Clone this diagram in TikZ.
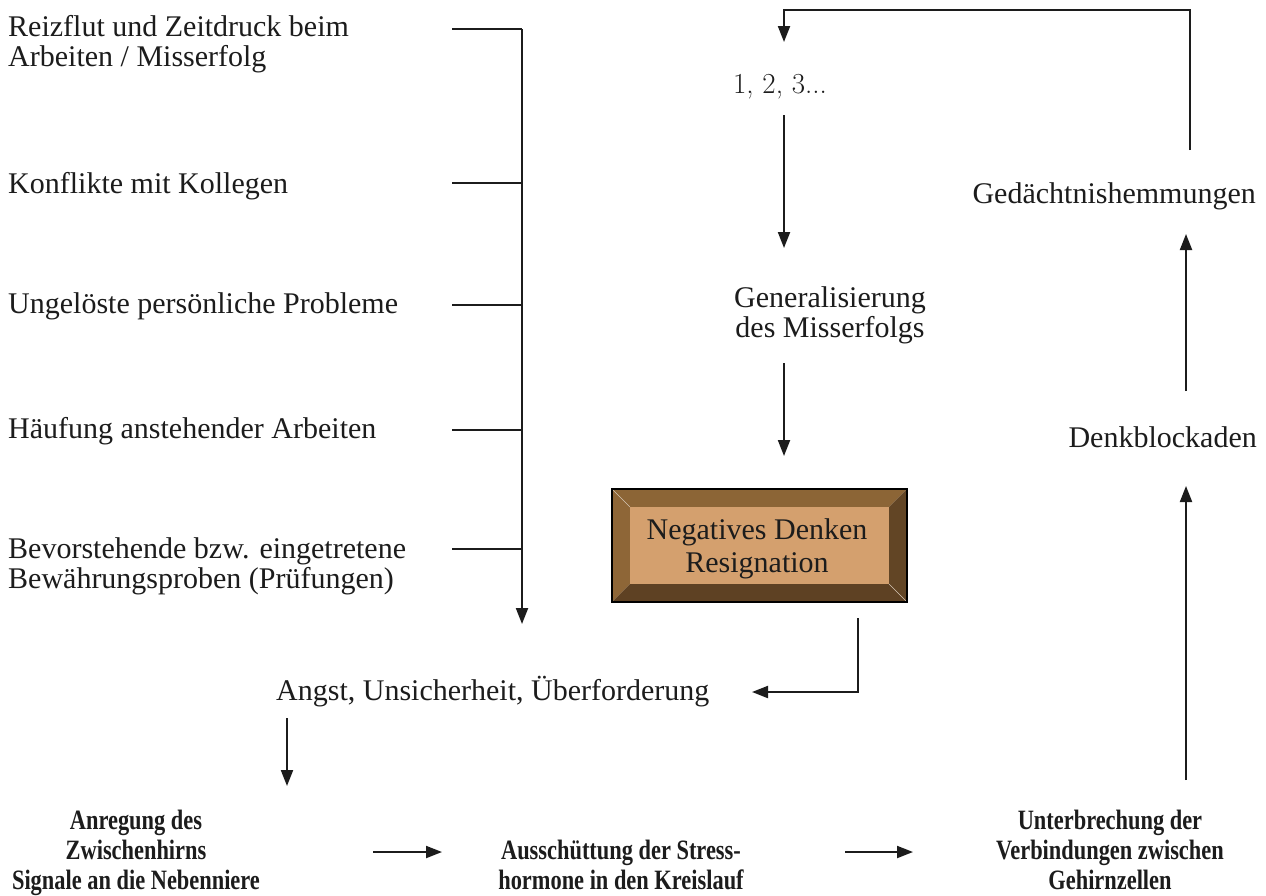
\documentclass[tikz,border=0pt]{standalone}
\usepackage{fontspec}
\setmainfont{Liberation Serif}
\newfontfamily\lmfont{Latin Modern Roman}
\newfontfamily\condfont[FakeStretch=0.8]{Liberation Serif}
\usetikzlibrary{arrows.meta}
\definecolor{ink}{HTML}{1C1C1C}
\definecolor{face}{HTML}{D4A06E}
\definecolor{bevtop}{HTML}{8C6536}
\definecolor{bevleft}{HTML}{8E6637}
\definecolor{bevright}{HTML}{624525}
\definecolor{bevbot}{HTML}{5E4123}
\begin{document}
\begin{tikzpicture}[x=1pt,y=-1pt,
  txt/.style={inner sep=0pt, font=\fontsize{30}{29.5}\selectfont, text=ink},
  bold/.style={inner sep=0pt, align=center, text=ink,
    font=\condfont\bfseries\fontsize{28}{30}\selectfont},
  conn/.style={draw=ink, line width=2pt},
  arr/.style={conn, -{Triangle[length=16pt,width=12pt]}}]
\useasboundingbox (0,0) rectangle (1266,895);
\fill[white] (0,0) rectangle (1266,895);

% causes on the left (base = last line)
\node[txt, anchor=base west, align=left] (c1) at (8,66)
  {Reizflut und Zeitdruck beim\\Arbeiten / Misserfolg};
\node[txt, anchor=base west] (c2) at (8,193) {Konflikte mit Kollegen};
\node[txt, anchor=base west] (c3) at (8,313) {Ungelöste persönliche Probleme};
\node[txt, anchor=base west] (c4) at (8,438) {Häufung anstehender Arbeiten};
\node[txt, anchor=base west, align=left] (c5) at (8,588)
  {Bevorstehende bzw. eingetretene\\Bewährungsproben (Prüfungen)};

% collecting line
\coordinate (s1) at (452,29);
\coordinate (s2) at (452,183);
\coordinate (s3) at (452,305);
\coordinate (s4) at (452,430);
\coordinate (s5) at (452,549);
\coordinate (bustop) at (522,29);
\coordinate (busend) at (522,624);
\draw[conn] (s1) -- (bustop);
\foreach \i in {2,...,5} \draw[conn] (s\i) -- (s\i -| bustop);
\draw[arr] (bustop) -- (busend);

% middle column
\node[inner sep=0pt, anchor=base, text=ink, font=\lmfont\fontsize{29}{30}\selectfont] (cnt) at (780,93) {1, 2, 3...};
\node[txt, anchor=base, align=center] (gen) at (830,337) {Generalisierung\\des Misserfolgs};

% bevelled box
\coordinate (bo1) at (612,489);
\coordinate (bo2) at (907,602);
\coordinate (bi1) at (630,507);
\coordinate (bi2) at (889,584);
\fill[bevtop] (612,489) -- (907,489) -- (889,507) -- (630,507) -- cycle;
\fill[bevleft] (612,489) -- (630,507) -- (630,584) -- (612,602) -- cycle;
\fill[bevright] (907,489) -- (907,602) -- (889,584) -- (889,507) -- cycle;
\fill[bevbot] (612,602) -- (907,602) -- (889,584) -- (630,584) -- cycle;
\fill[face] (bi1) rectangle (bi2);
\draw[white!60!bevtop, line width=0.6pt] (613,490) -- (630,507) (906,601) -- (889,584);
\draw[black, line width=2pt] (bo1) rectangle (bo2);
\node[txt, align=center, font=\fontsize{30}{33}\selectfont] (neg) at (757,549)
  {Negatives Denken\\Resignation};

\node[txt, anchor=base west] (angst) at (276,700) {Angst, Unsicherheit, Überforderung};

% bottom row
\node[bold, anchor=base] (b1) at (136,889) {Anregung des\\Zwischenhirns\\Signale an die Nebenniere};
\node[bold, anchor=base] (b2) at (621,889) {Ausschüttung der Stress-\\hormone in den Kreislauf};
\node[bold, anchor=base] (b3) at (1110,889) {Unterbrechung der\\Verbindungen zwischen\\Gehirnzellen};

% right column
\node[txt, anchor=base east] (denk) at (1257,447) {Denkblockaden};
\node[txt, anchor=base east] (ged) at (1256,203) {Gedächtnishemmungen};

% connectors
\coordinate (a1) at (784,115);
\coordinate (a2) at (784,248);
\coordinate (a3) at (784,363);
\coordinate (a4) at (784,456);
\draw[arr] (a1) -- (a2);
\draw[arr] (a3) -- (a4);
\draw[arr] (858,618) -- (858,692) -- (752,692);
\draw[arr] (287,718) -- (287,786);
\draw[arr] (373,852) -- (442,852);
\draw[arr] (845,852) -- (913,852);
\draw[arr] (1186,780) -- (1186,486);
\draw[arr] (1186,391) -- (1186,234);
\draw[arr] (1190,150) -- (1190,10) -- (784,10) -- (784,42);
\end{tikzpicture}
\end{document}
